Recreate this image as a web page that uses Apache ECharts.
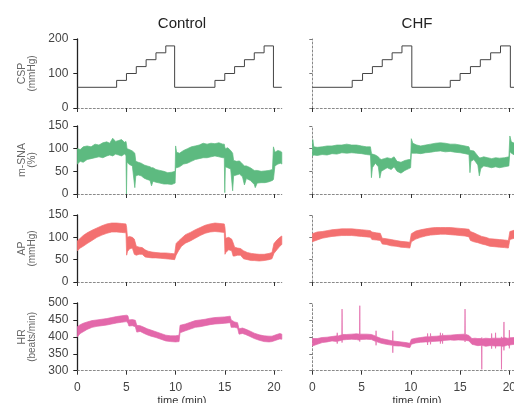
<!DOCTYPE html>
<html><head><meta charset="utf-8">
<script src="https://cdn.jsdelivr.net/npm/echarts@6/dist/echarts.min.js"></script>
<style>html,body{margin:0;padding:0;background:#fff}#c{width:514px;height:403px}</style>
</head><body><div id="c"></div>
<script>
// ---------- data (time in min) ----------
const timeTicks = [0, 5, 10, 15, 20];
const panelTitles = ['Control', 'CHF'];
const rowNames = [['CSP', '(mmHg)'], ['m-SNA', '(%)'], ['AP', '(mmHg)'], ['HR', '(beats/min)']];

// CSP step traces (value holds until next time)
const cspCtlT = [0, 4, 5, 6, 7, 8, 9, 9.9, 14, 15, 16, 17, 18, 19, 19.95, 20.8];
const cspCtlV = [60, 80, 100, 120, 140, 160, 180, 60, 80, 100, 120, 140, 160, 180, 60, 60];
const cspChfT = [0, 4.05, 5.1, 6.1, 7.1, 8.1, 9.1, 10.1, 14, 15, 16.05, 17.05, 18.1, 19.1, 20.1, 20.5];
const cspChfV = [60, 80, 100, 120, 140, 160, 180, 60, 80, 100, 120, 140, 160, 180, 60, 60];

// m-SNA control envelope
const snaCtlT  = [0,0.3,0.6,1,1.4,1.8,2.2,2.6,3,3.3,3.6,3.9,4.2,4.5,4.8,4.95,5,5.06,5.3,5.6,5.85,5.95,6.2,6.5,6.8,7.1,7.4,7.55,7.7,8,8.4,8.8,9.2,9.6,9.95,10,10.1,10.4,10.8,11.2,11.6,12,12.4,12.8,13.2,13.6,14,14.4,14.8,14.95,15,15.06,15.3,15.6,15.8,15.9,16.2,16.5,16.8,17,17.2,17.6,18,18.1,18.3,18.7,19.1,19.5,19.85,19.95,20.1,20.4,20.7,20.8];
const snaCtlLo = [66,72,70,76,78,80,82,80,84,86,84,88,86,84,88,85,0,70,65,62,14,40,42,40,35,32,30,18,28,26,24,22,22,21,24,58,58,60,66,68,72,76,78,80,80,82,84,82,80,80,3,60,58,55,7,40,42,44,38,20,34,30,21,14,24,25,25,27,30,32,62,66,68,66];
const snaCtlHi = [100,98,104,106,104,110,108,113,115,112,123,116,118,120,114,116,110,100,98,95,90,72,70,68,64,62,60,58,58,54,52,50,47,48,50,106,92,90,96,100,104,106,108,112,110,112,111,113,110,110,104,100,102,96,90,74,72,73,66,62,62,58,52,52,52,50,51,52,54,104,92,96,94,92];

// m-SNA CHF envelope
const snaChfT  = [0,0.05,0.15,0.5,1,1.5,2,2.5,3,3.5,4,4.5,5,5.5,5.9,6,6.1,6.4,6.7,6.85,7,7.3,7.6,8,8.3,8.6,9,9.4,9.8,9.98,10.05,10.2,10.6,11,11.5,12,12.5,13,13.5,14,14.5,15,15.5,15.9,16,16.1,16.4,16.8,16.95,17.1,17.4,17.8,18.2,18.6,19,19.5,19.95,20.05,20.2,20.5];
const snaChfLo = [84,84,86,85,87,86,89,88,91,90,91,90,89,87,86,36,58,68,60,35,50,54,58,54,60,50,46,52,56,58,90,90,90,89,91,92,94,95,93,94,92,91,89,87,47,72,76,64,40,56,62,60,58,60,58,60,62,94,90,86];
const snaChfHi = [106,120,104,103,104,106,106,108,108,110,108,108,106,104,104,90,88,86,82,78,76,78,80,78,82,72,70,74,76,76,122,112,108,106,108,110,112,113,112,110,110,108,106,104,96,96,95,84,80,80,82,80,78,80,79,80,82,128,115,112];

// AP control envelope
const apCtlT  = [0,0.3,0.6,1,1.5,2,2.5,3,3.5,4,4.5,4.95,5.02,5.1,5.3,5.6,5.8,6,6.3,6.6,6.9,7.2,7.6,8,8.5,9,9.5,9.9,10.05,10.3,10.6,11,11.5,12,12.5,13,13.5,14,14.5,14.95,15.02,15.1,15.4,15.7,15.85,16,16.3,16.6,16.9,17.3,17.7,18,18.5,19,19.5,19.8,20,20.3,20.6,20.8];
const apCtlLo = [70,76,80,86,93,100,105,109,112,112,111,110,60,68,74,76,62,60,62,62,56,55,54,54,53,52,51,50,60,70,80,87,92,98,104,109,112,113,112,111,62,66,72,70,58,58,60,60,52,50,48,48,47,48,50,52,64,72,80,84];
const apCtlHi = [92,98,104,110,116,121,126,130,132,132,131,130,122,100,102,100,96,80,78,77,72,69,67,66,65,65,64,63,86,92,98,106,111,117,122,127,130,132,131,130,122,98,100,96,88,78,76,75,70,66,64,63,62,62,64,66,86,94,100,103];

// AP CHF envelope
const apChfT  = [0,0.5,1,1.5,2,2.5,3,3.5,4,4.5,5,5.5,5.9,6.05,6.5,6.9,7.1,7.5,8,8.5,9,9.5,9.9,10.05,10.5,11,11.5,12,12.5,13,13.5,14,14.5,15,15.5,15.9,16.05,16.4,16.8,17.2,17.6,18,18.5,19,19.5,19.9,20.05,20.5];
const apChfLo = [90,94,98,100,102,103,104,104,104,103,102,101,100,95,94,93,85,84,81,80,78,77,76,90,96,100,103,105,106,107,107,106,105,104,103,101,93,90,88,85,83,80,79,78,77,76,95,98];
const apChfHi = [108,112,113,115,117,118,119,119,119,118,117,116,115,112,110,109,98,97,95,93,91,90,89,108,114,117,119,121,122,122,122,122,121,120,119,118,113,110,106,102,100,97,96,95,94,93,113,116];

// HR control envelope
const hrCtlT  = [0,0.3,0.6,1,1.5,2,2.5,3,3.5,4,4.5,5,5.15,5.25,5.6,5.9,6.05,6.4,6.8,7.1,7.5,8,8.5,9,9.5,10,10.35,10.45,11,11.5,12,12.5,13,13.5,14,14.5,15,15.55,15.65,16,16.3,16.45,16.8,17.1,17.5,18,18.5,19,19.5,19.8,20.2,20.6,20.8];
const hrCtlLo = [400,410,415,422,428,431,433,435,438,441,443,445,440,432,433,430,414,416,410,406,402,398,393,388,386,385,386,412,418,423,428,430,433,436,438,439,440,442,428,428,426,408,410,407,402,395,390,386,385,386,390,394,393];
const hrCtlHi = [430,436,440,444,448,450,452,454,457,460,462,464,462,450,451,449,434,433,428,424,420,415,410,405,403,403,405,434,438,443,448,450,452,455,457,458,459,461,450,444,442,424,426,423,418,411,406,403,402,402,406,410,408];

// HR CHF envelope (with transient spikes)
const hrChfT  = [0,0.5,1,1.5,2,2.5,2.53,2.56,3,3.02,3.04,3.5,4,4.5,4.8,4.82,4.84,5.5,6,6.45,6.47,6.49,7,7.5,8.15,8.17,8.19,8.7,9,9.5,9.9,10.05,10.5,11,11.5,11.68,11.7,11.72,11.98,12,12.02,12.6,12.98,13,13.02,13.2,13.22,13.24,14,14.4,14.8,15.48,15.5,15.52,15.9,16.2,16.5,16.8,17.18,17.2,17.22,17.6,18,18.18,18.2,18.22,18.58,18.6,18.62,19.18,19.2,19.22,19.43,19.45,19.47,19.8,19.98,20,20.02,20.5];
const hrChfLo = [373,378,383,385,388,386,380,387,390,383,391,392,393,392,390,386,392,393,392,386,375,386,381,378,375,353,374,373,373,370,368,378,382,384,385,385,376,385,386,378,386,387,388,380,388,388,380,389,391,390,391,390,385,390,388,378,376,374,375,304,375,372,374,374,365,374,373,366,373,373,304,372,372,360,372,376,374,366,376,378];
const hrChfHi = [395,395,398,399,401,403,412,402,406,482,407,407,408,409,408,492,408,408,407,402,418,401,395,392,388,418,388,386,385,383,381,393,396,398,400,400,410,400,400,410,401,402,403,412,403,404,410,404,405,406,407,408,482,408,404,395,396,395,395,398,394,396,395,395,410,396,396,412,396,396,400,396,397,444,398,396,396,420,397,398];

// ---------- layout ----------
const FONT = 'Liberation Sans, Arial, Helvetica, sans-serif';
const rowTop = [39, 126, 215, 303];
const rowH = [69, 68, 67, 67.7];
const colLeft = [77.3, 312.3];
const colW = [204.5, 202];
const colMax = [20.8, 20.5];
const yCfg = [
  {min: 0, max: 200, interval: 100},
  {min: 0, max: 150, interval: 50},
  {min: 0, max: 150, interval: 50},
  {min: 300, max: 500, interval: 50}
];
const GREEN = '#5dba80', RED = '#f37070', PINK = '#e368aa';

const grids = [], xAxes = [], yAxes = [], series = [];
for (let r = 0; r < 4; r++) {
  for (let c = 0; c < 2; c++) {
    const i = r * 2 + c;
    grids.push({left: colLeft[c], top: rowTop[r], width: colW[c], height: rowH[r], outerBoundsMode: 'none', containLabel: false});
    xAxes.push({
      type: 'value', gridIndex: i, min: 0, max: colMax[c],
      axisLine: {show: true, onZero: false, lineStyle: {color: '#8a8a8a', width: 1, type: [2, 2]}},
      axisTick: {show: true, length: 4, inside: false, customValues: timeTicks, lineStyle: {color: '#333', width: 1}},
      axisLabel: {show: r === 3, customValues: timeTicks, margin: 11, fontSize: 12, color: '#444', fontFamily: FONT},
      splitLine: {show: false}
    });
    yAxes.push({
      type: 'value', gridIndex: i, min: yCfg[r].min, max: yCfg[r].max, interval: yCfg[r].interval,
      axisLine: {show: true, lineStyle: c === 0 ? {color: '#222', width: 1.3} : {color: '#888', width: 1, type: [2, 2]}},
      axisTick: {show: true, length: c === 0 ? 4 : 3, lineStyle: {color: c === 0 ? '#222' : '#777'}},
      axisLabel: {show: c === 0, margin: 9, fontSize: 12, color: '#444', fontFamily: FONT},
      splitLine: {show: false}
    });
  }
}

function zip(a, b) { return a.map((v, k) => [v, b[k]]); }
// filled envelope between lo and hi, drawn through the axis scales (api.coord)
function band(idx, t, lo, hi, color) {
  series.push({
    type: 'custom', coordinateSystem: 'cartesian2d', xAxisIndex: idx, yAxisIndex: idx, silent: true,
    data: t.map((v, k) => [v, lo[k], hi[k]]),
    encode: {x: 0, y: [1, 2]},
    clip: true,
    renderItem: function (params, api) {
      if (params.dataIndex !== 0) return null;
      const pts = [];
      for (let k = 0; k < t.length; k++) pts.push(api.coord([t[k], hi[k]]));
      for (let k = t.length - 1; k >= 0; k--) pts.push(api.coord([t[k], lo[k]]));
      return {type: 'polygon', shape: {points: pts},
        style: {fill: color, stroke: color, lineWidth: 0.7, lineJoin: 'round'}};
    }
  });
}
function step(idx, t, v) {
  series.push({
    type: 'line', xAxisIndex: idx, yAxisIndex: idx, step: 'end', symbol: 'none', silent: true,
    data: zip(t, v), lineStyle: {color: '#444', width: 1}
  });
}
step(0, cspCtlT, cspCtlV);
step(1, cspChfT, cspChfV);
band(2, snaCtlT, snaCtlLo, snaCtlHi, GREEN);
band(3, snaChfT, snaChfLo, snaChfHi, GREEN);
band(4, apCtlT, apCtlLo, apCtlHi, RED);
band(5, apChfT, apChfLo, apChfHi, RED);
band(6, hrCtlT, hrCtlLo, hrCtlHi, PINK);
band(7, hrChfT, hrChfLo, hrChfHi, PINK);

const graphics = [];
const titleX = [182, 417];
panelTitles.forEach((s, c) => graphics.push({type: 'text', x: titleX[c], y: 24,
  style: {text: s, fontSize: 15, fontFamily: FONT, fill: '#222', align: 'center', verticalAlign: 'middle'}}));
titleX.forEach(x => graphics.push({type: 'text', x: x, y: 401,
  style: {text: 'time (min)', fontSize: 11, fontFamily: FONT, fill: '#333', align: 'center', verticalAlign: 'middle'}}));
rowNames.forEach((nm, r) => {
  const cy = rowTop[r] + rowH[r] / 2;
  graphics.push({type: 'text', x: 22, y: cy, rotation: Math.PI / 2,
    style: {text: nm[0], fontSize: 10.5, fontFamily: FONT, fill: '#666', align: 'center', verticalAlign: 'middle'}});
  graphics.push({type: 'text', x: 32, y: cy, rotation: Math.PI / 2,
    style: {text: nm[1], fontSize: 10, fontFamily: FONT, fill: '#666', align: 'center', verticalAlign: 'middle'}});
});

const chart = echarts.init(document.getElementById('c'), null, {renderer: 'canvas'});
chart.setOption({
  animation: false,
  backgroundColor: '#fff',
  grid: grids, xAxis: xAxes, yAxis: yAxes, series: series,
  graphic: graphics
});
</script>
</body></html>
